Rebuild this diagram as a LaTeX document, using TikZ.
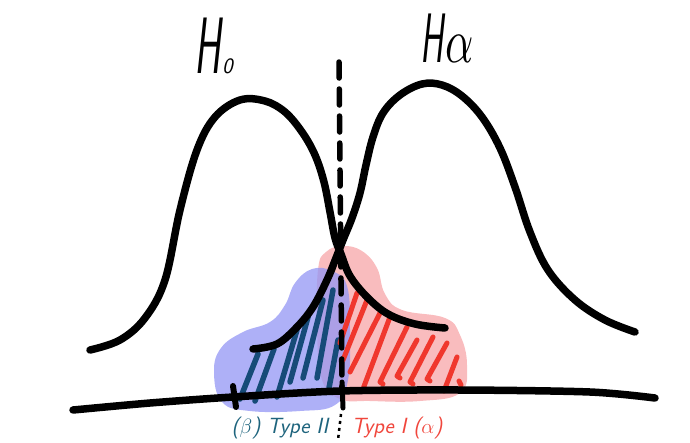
\documentclass[tikz,border=0pt]{standalone}
\usetikzlibrary{calc}
\definecolor{blobblue}{RGB}{147,150,244}
\definecolor{blobpink}{RGB}{249,188,190}
\definecolor{hatchblue}{RGB}{22,75,120}
\definecolor{hatchred}{RGB}{240,55,45}
\definecolor{labelteal}{RGB}{30,100,125}
\definecolor{labelred}{RGB}{240,70,60}
\tikzset{
  curve/.style={line width=7.5pt, line cap=round, line join=round, black},
  hatchb/.style={line width=5.5pt, line cap=round, hatchblue},
  hatchr/.style={line width=5pt, line cap=round, line join=round, hatchred},
  title/.style={inner sep=0pt, font=\sffamily\slshape},
  lab/.style={inner sep=0pt, font=\sffamily\slshape\fontsize{22}{22}\selectfont},
}
\begin{document}
\begin{tikzpicture}[x=1pt,y=-1pt]
\useasboundingbox (0,0) rectangle (690,442);
% blobs
\fill[blobpink] plot[smooth cycle, tension=0.7] coordinates {(318,270) (326,252) (343,246) (362,251) (377,268) (385,294) (402,310) (445,318) (460,335) (467,365) (460,393) (420,401) (370,401) (340,399) (322,380) (317,330)};
\fill[blobblue, fill opacity=0.75] plot[smooth cycle, tension=0.7] coordinates {(214,372) (221,348) (243,332) (270,322) (285,305) (295,283) (312,269) (332,271) (347,286) (350,330) (348,380) (335,405) (300,411) (250,411) (222,402)};
% blue hatching
\draw[hatchb] (240,399) -- (258,354);
\draw[hatchb] (255,401) -- (274,349);
\draw[hatchb] (277,397) -- (297,330);
\draw[hatchb] (290,382) -- (310,310);
\draw[hatchb] (303,378) -- (323,300);
\draw[hatchb] (317,378) -- (333,290);
\draw[hatchb] (329,388) -- (338,340);
% red hatching
\draw[hatchr] (340,343) -- (357,293);
\draw[hatchr] (343,360) -- (367,300);
\draw[hatchr] (350,372) -- (380,313) ;
\draw[hatchr] (366,390) -- (363,389) -- (390,317);
\draw[hatchr] (383,384) -- (380,382) -- (407,327);
\draw[hatchr] (400,378) -- (397,376) -- (417,340);
\draw[hatchr] (413,384) -- (410,382) -- (433,337);
\draw[hatchr] (430,381) -- (427,379) -- (447,343);
\draw[hatchr] (444,391) -- (457,357);
\draw[hatchr] (459,381) -- (461,385);
% H0 curve
\draw[curve] plot[smooth, tension=0.6] coordinates {(90,350) (120,340) (145,318) (165,280) (180,210) (197,150) (215,117) (240,100) (265,101) (285,112) (302,132) (315,155) (324,182) (330,212) (335,238) (341,254) (350,276) (367,297) (388,314) (415,324) (445,328)};
% Ha curve
\draw[curve] plot[smooth, tension=0.6] coordinates {(253,349) (277,344) (297,327) (313,307) (327,280) (336,258) (343,240) (352,218) (360,193) (366,165) (373,137) (383,113) (400,95) (422,84) (442,85) (462,96) (482,117) (500,148) (515,187) (530,232) (548,270) (575,300) (605,320) (635,332)};
% axis
\coordinate (axL) at (73,410);
\coordinate (axR) at (655,398);
\draw[curve] plot[smooth, tension=0.5] coordinates {(axL) (150,403) (233,397) (340,391) (460,390) (590,392) (axR)};
\draw[line width=6pt, line cap=round] (233,386) -- (236,407);
% critical value line
\coordinate (ctop) at (339,62);
\coordinate (cmid) at (342,390);
\coordinate (cbot) at (338,440);
\draw[line width=5.5pt, line cap=round, dash pattern=on 16pt off 11pt] (ctop) -- (cmid);
\draw[line width=5pt, line cap=round] (342,382) -- (343,408);
\draw[line width=2.5pt, dash pattern=on 3pt off 4pt] (341,414) -- (cbot);
% titles
\node[title, anchor=base west] (h0) at (194,73) {\scalebox{0.5}[1]{\fontsize{80}{80}\selectfont H}\,{\fontsize{22}{22}\selectfont 0}};
\node[title, anchor=base west] (ha) at (420,62) {\scalebox{0.5}[1]{\fontsize{70}{70}\selectfont H}\,\scalebox{4.4}[6.3]{$\alpha$}};
% labels
\node[lab, text=labelteal, anchor=base] (t2) at (280,433) {($\beta$) Type II};
\node[lab, text=labelred, anchor=base] (t1) at (397,433) {Type I ($\alpha$)};
\end{tikzpicture}
\end{document}
